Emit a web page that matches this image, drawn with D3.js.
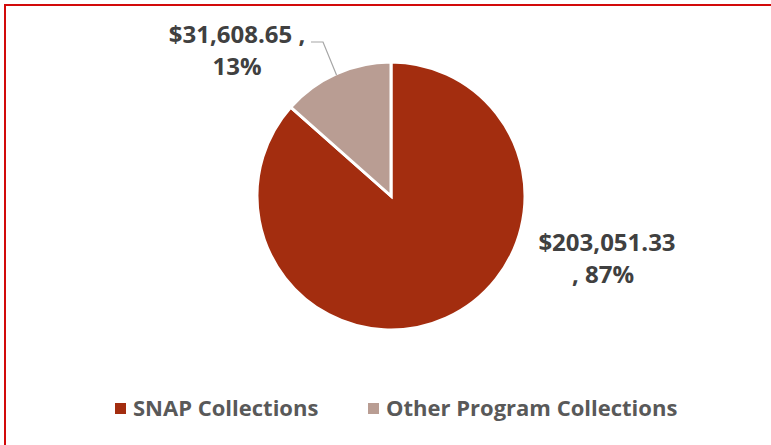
<!DOCTYPE html>
<html>
<head>
<meta charset="utf-8">
<script src="https://cdn.jsdelivr.net/npm/d3@7"></script>
<style>
  html, body { margin: 0; padding: 0; background: #fff; }
  svg { display: block; }
  text { font-family: "Open Sans", Lato, sans-serif; font-weight: 700; fill: #404040; }
</style>
</head>
<body>
<div id="chart"></div>
<script>
const categories = ["SNAP Collections", "Other Program Collections"];
const amounts = [203051.33, 31608.65];
const percents = ["87%", "13%"];
const colors = ["#a32d0f", "#b99d93"];

const width = 771;
const height = 445;
const cx = 391;
const cy = 196;
const radius = 134;

const svg = d3
  .select("#chart")
  .append("svg")
  .attr("width", width)
  .attr("height", height);

// red frame, runs off the right and bottom edges
svg
  .append("rect")
  .attr("x", 5)
  .attr("y", 5)
  .attr("width", width + 20)
  .attr("height", height + 20)
  .attr("fill", "none")
  .attr("stroke", "#d20a0a")
  .attr("stroke-width", 2);

const pie = d3.pie().sort(null).value((d) => d);
const arcs = pie(amounts);
const arc = d3.arc().innerRadius(0).outerRadius(radius);

const g = svg.append("g").attr("transform", `translate(${cx},${cy})`);

g.selectAll("path")
  .data(arcs)
  .join("path")
  .attr("d", arc)
  .attr("fill", (d, i) => colors[i])
  .attr("stroke", "#fff")
  .attr("stroke-width", 3)
  .attr("stroke-linejoin", "miter");

const money = (v) => "$" + d3.format(",.2f")(v);

// SNAP label, right of the pie
const snapLabel = g
  .append("text")
  .attr("text-anchor", "middle")
  .attr("font-size", 24);
snapLabel.append("tspan").attr("x", 216).attr("y", 55).text(money(amounts[0]));
snapLabel.append("tspan").attr("x", 212).attr("y", 87).text(", " + percents[0]);

// Other label, upper left with leader line
const otherLabel = g
  .append("text")
  .attr("text-anchor", "middle")
  .attr("font-size", 24);
otherLabel.append("tspan").attr("x", -154).attr("y", -153).text(money(amounts[1]) + " ,");
otherLabel.append("tspan").attr("x", -154).attr("y", -121).text(percents[1]);

const mid = (arcs[1].startAngle + arcs[1].endAngle) / 2;
const edge = [Math.sin(mid) * radius * 0.99, -Math.cos(mid) * radius * 0.99];
// leader runs from the slice edge up to the label
g.append("polyline")
  .attr("points", [[-80, -154], [-68, -154], edge].map((p) => p.join(",")).join(" "))
  .attr("fill", "none")
  .attr("stroke", "#a6a6a6")
  .attr("stroke-width", 1.2);

// legend
const legend = svg.append("g").attr("transform", "translate(115,409)");
const items = legend
  .selectAll("g")
  .data(categories)
  .join("g")
  .attr("transform", (d, i) => `translate(${i * 253},0)`);

items
  .append("rect")
  .attr("x", 0)
  .attr("y", -6)
  .attr("width", 11)
  .attr("height", 11)
  .attr("fill", (d, i) => colors[i]);

items
  .append("text")
  .attr("x", 18)
  .attr("y", 7)
  .attr("font-size", 22)
  .style("fill", "#595959")
  .text((d) => d);
</script>
</body>
</html>
